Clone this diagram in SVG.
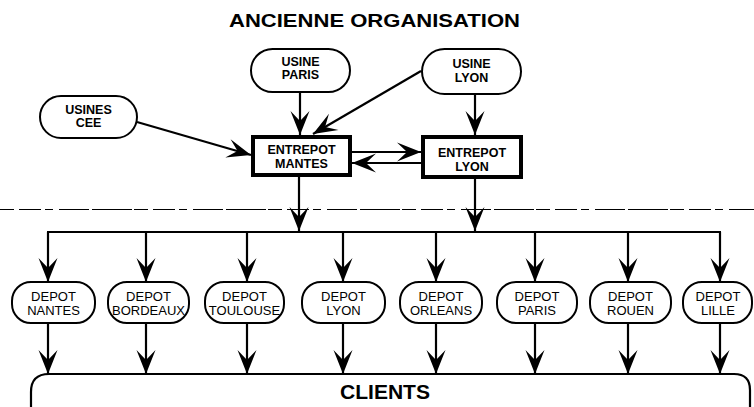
<svg xmlns="http://www.w3.org/2000/svg" width="754" height="407" viewBox="0 0 754 407">
<style>
.bg{fill:#fff}
.pill{fill:#fff;stroke:#000;stroke-width:2}
.box{fill:#fff;stroke:#000;stroke-width:4}
.lb{font-family:"Liberation Sans",Arial,sans-serif;font-weight:bold;font-size:12.5px;text-anchor:middle;fill:#000}
.lbe{font-family:"Liberation Sans",Arial,sans-serif;font-weight:bold;font-size:12.5px;text-anchor:middle;fill:#000}
.ld{font-family:"Liberation Sans",Arial,sans-serif;font-size:13px;text-anchor:middle;fill:#000}
.big{font-family:"Liberation Sans",Arial,sans-serif;font-weight:bold;text-anchor:middle;fill:#000}
.ln{fill:none;stroke:#000;stroke-width:2.2}
.ar{fill:none;stroke:#000;stroke-width:2.2;marker-end:url(#ah)}
</style>
<defs>
<marker id="ah" markerUnits="userSpaceOnUse" markerWidth="27" markerHeight="22" viewBox="-25 -11 27 22" refX="0" refY="0" orient="auto">
<path d="M0 0 L-24 -9.5 L-14 0 L-24 9.5 Z" fill="#000"/>
</marker>
</defs>
<rect class="bg" x="0" y="0" width="754" height="407"/>
<text class="big" x="374.5" y="27" font-size="19" textLength="291" lengthAdjust="spacingAndGlyphs">ANCIENNE ORGANISATION</text>
<line x1="0" y1="209.5" x2="754" y2="209.5" stroke="#000" stroke-width="1" stroke-dasharray="14 5 22 4 8 6 30 3 40 2"/>
<g id="connectors">
<path class="ar" d="M300 92 V135"/>
<path class="ar" d="M421 71 L313 134"/>
<path class="ar" d="M137 122 L251 155"/>
<path class="ar" d="M475 94 V135"/>
<path class="ar" d="M352 152 H421"/>
<path class="ar" d="M421 163 H352"/>
<path class="ar" d="M299 177 V231"/>
<path class="ar" d="M475 179 V231"/>
<path class="ln" d="M47 232 H721"/>
<path class="ar" d="M48 232 V282"/>
<path class="ar" d="M146 232 V282"/>
<path class="ar" d="M247 232 V282"/>
<path class="ar" d="M343 232 V282"/>
<path class="ar" d="M436 232 V282"/>
<path class="ar" d="M535 232 V282"/>
<path class="ar" d="M628 232 V282"/>
<path class="ar" d="M720 232 V282"/>
<path class="ar" d="M48 323 V374"/>
<path class="ar" d="M146 323 V374"/>
<path class="ar" d="M247 323 V374"/>
<path class="ar" d="M343 323 V374"/>
<path class="ar" d="M436 323 V374"/>
<path class="ar" d="M535 323 V374"/>
<path class="ar" d="M628 323 V374"/>
<path class="ar" d="M720 323 V374"/>
</g>
<g id="usine-paris"><rect class="pill" x="251" y="49" width="99" height="43" rx="21.5"/><text class="lb" x="300.5" y="66">USINE</text><text class="lb" x="300.5" y="79">PARIS</text></g>
<g id="usines-cee"><rect class="pill" x="40" y="96" width="97" height="42" rx="21"/><text class="lb" x="88.5" y="114">USINES</text><text class="lb" x="88.5" y="127">CEE</text></g>
<g id="usine-lyon"><rect class="pill" x="422" y="49" width="99" height="45" rx="22.5"/><text class="lb" x="471.5" y="68">USINE</text><text class="lb" x="471.5" y="82">LYON</text></g>
<g id="entrepot-mantes"><rect class="box" x="253" y="137" width="97" height="38"/><text class="lbe" x="301.5" y="154">ENTREPOT</text><text class="lbe" x="301.5" y="168">MANTES</text></g>
<g id="entrepot-lyon"><rect class="box" x="423" y="137" width="98" height="40"/><text class="lbe" x="472" y="157">ENTREPOT</text><text class="lbe" x="472" y="171">LYON</text></g>
<g id="depot-nantes"><rect class="pill" x="12" y="282" width="83" height="41" rx="19"/><text class="ld" x="53.5" y="301">DEPOT</text><text class="ld" x="53.5" y="315">NANTES</text></g>
<g id="depot-bordeaux"><rect class="pill" x="108" y="282" width="81" height="41" rx="19"/><text class="ld" x="148.5" y="301">DEPOT</text><text class="ld" x="148.5" y="315">BORDEAUX</text></g>
<g id="depot-toulouse"><rect class="pill" x="205" y="282" width="79" height="41" rx="19"/><text class="ld" x="244.5" y="301">DEPOT</text><text class="ld" x="244.5" y="315">TOULOUSE</text></g>
<g id="depot-lyon"><rect class="pill" x="302" y="282" width="83" height="41" rx="19"/><text class="ld" x="343.5" y="301">DEPOT</text><text class="ld" x="343.5" y="315">LYON</text></g>
<g id="depot-orleans"><rect class="pill" x="400" y="282" width="82" height="41" rx="19"/><text class="ld" x="441" y="301">DEPOT</text><text class="ld" x="441" y="315">ORLEANS</text></g>
<g id="depot-paris"><rect class="pill" x="497" y="282" width="80" height="41" rx="19"/><text class="ld" x="537" y="301">DEPOT</text><text class="ld" x="537" y="315">PARIS</text></g>
<g id="depot-rouen"><rect class="pill" x="590" y="282" width="81" height="41" rx="19"/><text class="ld" x="630.5" y="301">DEPOT</text><text class="ld" x="630.5" y="315">ROUEN</text></g>
<g id="depot-lille"><rect class="pill" x="683" y="282" width="69" height="41" rx="19"/><text class="ld" x="718" y="301">DEPOT</text><text class="ld" x="718" y="315">LILLE</text></g>
<g id="clients"><path class="ln" d="M31 408 V392 Q31 374 49 374 H734 Q750 374 750 390 V408"/><text class="big" x="385" y="399" font-size="20" textLength="90" lengthAdjust="spacingAndGlyphs">CLIENTS</text></g>
</svg>
